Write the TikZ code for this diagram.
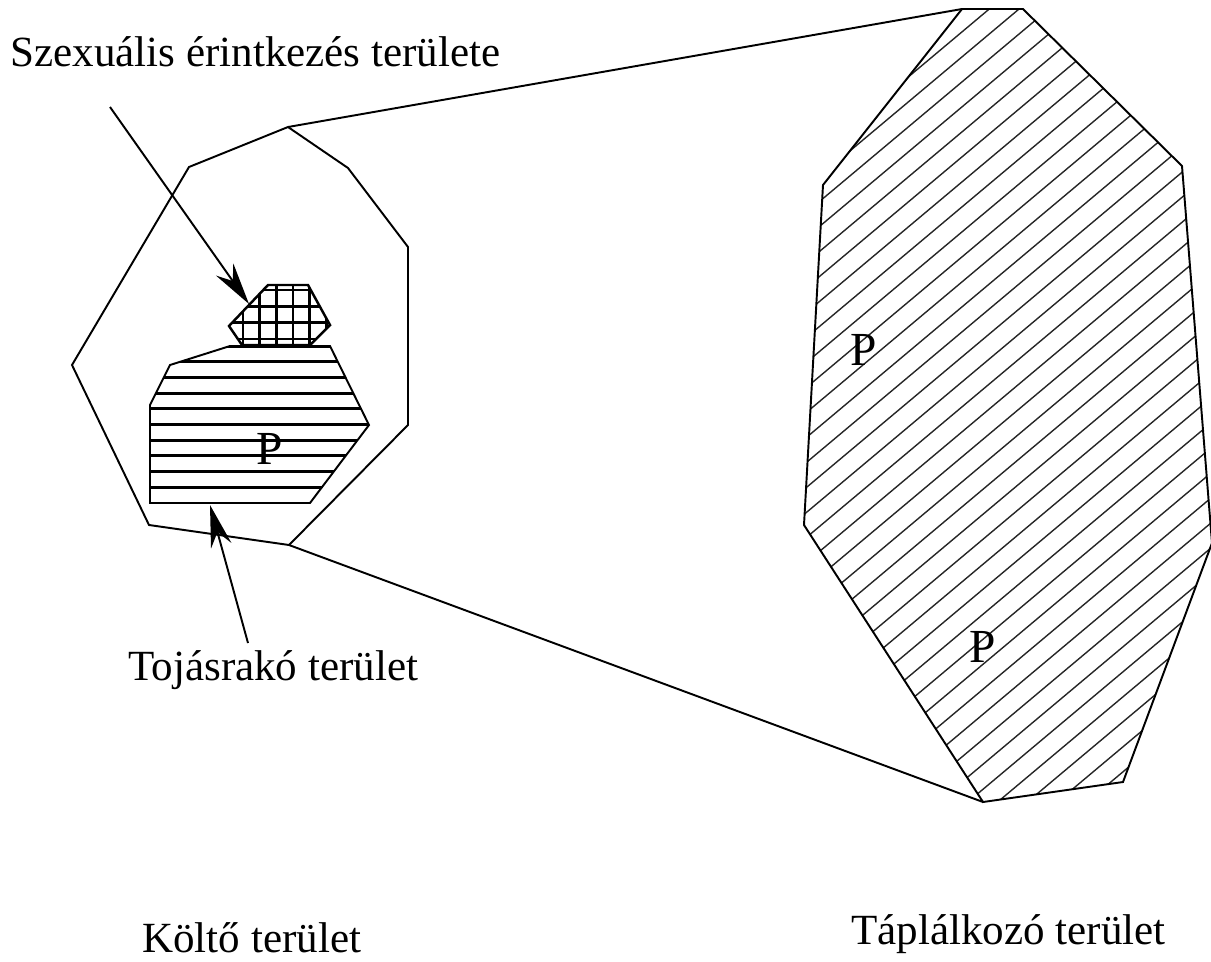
\documentclass[tikz,border=0pt]{standalone}
\usepackage{fontspec}
\setmainfont{Liberation Serif}
\usetikzlibrary{positioning, calc, arrows.meta}

\begin{document}
\begin{tikzpicture}[x=0.02cm, y=-0.02cm,
        area/.style={draw, line width=1.1pt, line join=miter},
        hatch/.style={line width=0.8pt, black!85},
        bar/.style={line width=1.7pt},
        txt/.style={inner sep=0pt, anchor=base west, font=\fontsize{24.5}{29}\selectfont},
        pmark/.style={inner sep=0pt, font=\fontsize{27}{30}\selectfont},
        arrow/.style={-{Stealth[length=24pt, width=12pt, inset=8pt]}, line width=1.1pt}
    ]
    \useasboundingbox (0,0) rectangle (1211,961);

    % breeding area
    \coordinate (K1) at (288,127);
    \coordinate (K2) at (348,168);
    \coordinate (K3) at (408,247);
    \coordinate (K4) at (408,425);
    \coordinate (K5) at (289,545);
    \coordinate (K6) at (149,525);
    \coordinate (K7) at (72,365);
    \coordinate (K8) at (189,167);
    \draw[area] (K1) -- (K2) -- (K3) -- (K4) -- (K5) -- (K6) -- (K7) -- (K8) -- cycle;

    % feeding area
    \coordinate (T1) at (962,9);
    \coordinate (T2) at (1023,9);
    \coordinate (T3) at (1182,166);
    \coordinate (T4) at (1212,543);
    \coordinate (T5) at (1123,782);
    \coordinate (T6) at (983,802);
    \coordinate (T7) at (804,525);
    \coordinate (T8) at (823,185);
    \begin{scope}
        \clip (T1) -- (T2) -- (T3) -- (T4) -- (T5) -- (T6) -- (T7) -- (T8) -- cycle;
        \foreach \b in {639,664,...,1850}
            \draw[hatch] (790,{\b-662.8}) -- (1230,{\b-1032});
    \end{scope}
    \draw[area] (T1) -- (T2) -- (T3) -- (T4) -- (T5) -- (T6) -- (T7) -- (T8) -- cycle;

    \draw[area] (K1) -- (T1);
    \draw[area] (K5) -- (T6);

    % egg laying area
    \coordinate (H1) at (330,346);
    \coordinate (H2) at (230,346);
    \coordinate (H3) at (170,365);
    \coordinate (H4) at (150,405);
    \coordinate (H5) at (150,503);
    \coordinate (H6) at (310,503);
    \coordinate (H7) at (369,425);
    \begin{scope}
        \clip (H1) -- (H2) -- (H3) -- (H4) -- (H5) -- (H6) -- (H7) -- cycle;
        \foreach \k in {0,...,9}
            \draw[bar] (140,{346+15.7*\k}) -- (380,{346+15.7*\k});
    \end{scope}
    \draw[area] (H1) -- (H2) -- (H3) -- (H4) -- (H5) -- (H6) -- (H7) -- cycle;
    \draw[bar] (H2) -- (H1);

    % mating area
    \coordinate (G1) at (268,285);
    \coordinate (G2) at (308,285);
    \coordinate (G3) at (330,325);
    \coordinate (G4) at (310,345);
    \coordinate (G5) at (242,345);
    \coordinate (G6) at (229,326);
    \begin{scope}
        \clip (G1) -- (G2) -- (G3) -- (G4) -- (G5) -- (G6) -- cycle;
        \foreach \k in {-1,...,5}
            \draw[line width=1.5pt] ({243+16.7*\k},270) -- ({243+16.7*\k},360);
        \foreach \k in {-1,...,4}
            \draw[line width=1.5pt] (220,{290+16.3*\k}) -- (340,{290+16.3*\k});
    \end{scope}
    \draw[area, line width=1.4pt] (G1) -- (G2) -- (G3) -- (G4) -- (G5) -- (G6) -- cycle;

    % labels
    \node[txt] (SZEX) at (10,66) {Szexuális érintkezés területe};
    \node[txt] (TOJAS) at (128,680) {Tojásrakó terület};
    \node[txt] (KOLTO) at (142,952) {Költő terület};
    \node[txt] (TAPL) at (851,944) {Táplálkozó terület};

    \node[pmark] (P1) at (270,449) {P};
    \node[pmark] (P2) at (864,350) {P};
    \node[pmark] (P3) at (983,647) {P};

    % pointers
    \coordinate (A1) at (110,107);
    \coordinate (A1t) at (249,304);
    \coordinate (A2) at (248,643);
    \coordinate (A2t) at (210,505);
    \draw[arrow] (A1) -- (A1t);
    \draw[arrow] (A2) -- (A2t);
\end{tikzpicture}
\end{document}
